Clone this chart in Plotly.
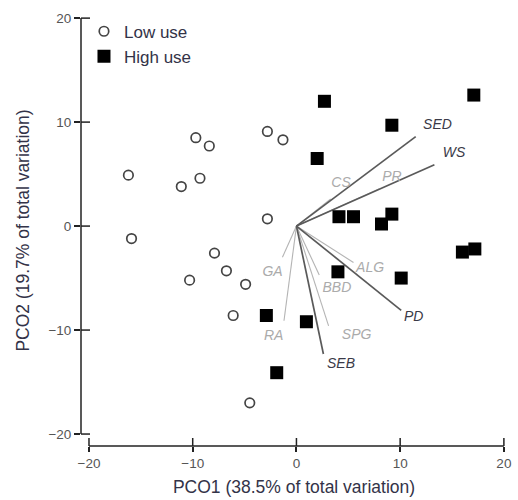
import plotly.graph_objects as go

# ---- data ----
low_x = [-16.2, -15.9, -9.7, -8.4, -11.1, -9.3, -2.8, -1.3, -2.8, -7.9, -6.75, -10.3, -4.9, -6.1, -4.5]
low_y = [4.9, -1.2, 8.5, 7.7, 3.8, 4.6, 9.1, 8.3, 0.7, -2.6, -4.3, -5.2, -5.6, -8.6, -17.0]

high_x = [2.7, 9.2, 17.1, 2.0, 4.1, 5.5, 9.2, 8.2, 4.0, 10.1, -2.9, 0.96, -1.9, 16.0, 17.2]
high_y = [12.0, 9.7, 12.6, 6.5, 0.9, 0.9, 1.15, 0.2, -4.4, -5.0, -8.6, -9.2, -14.1, -2.5, -2.2]

# vectors (light = weakly correlated, dark = strongly correlated)
light_names = ["CS", "PR", "GA", "RA", "SPG", "BBD", "ALG"]
light_x = [3.3, 8.0, -1.35, -1.2, 3.1, 2.2, 5.5]
light_y = [2.6, 3.6, -3.0, -9.1, -9.6, -4.7, -3.5]
light_lx = [4.3, 9.2, -2.3, -2.2, 5.8, 3.9, 7.1]
light_ly = [4.1, 4.7, -4.5, -10.6, -10.5, -6.0, -4.1]

dark_names = ["SED", "WS", "PD", "SEB"]
dark_x = [11.5, 13.3, 10.1, 2.6]
dark_y = [8.6, 5.9, -8.1, -12.3]
dark_lx = [13.6, 15.2, 11.3, 4.3]
dark_ly = [9.7, 7.0, -8.8, -13.3]

ticks = [-20, -10, 0, 10, 20]
x_title = "PCO1 (38.5% of total variation)"
y_title = "PCO2 (19.7% of total variation)"

fig = go.Figure()

def seg(xs, ys):
    X, Y = [], []
    for a, b in zip(xs, ys):
        X += [0, a, None]
        Y += [0, b, None]
    return X, Y

lx, ly = seg(light_x, light_y)
fig.add_trace(go.Scatter(x=lx, y=ly, mode="lines", line=dict(color="#b4b4b4", width=1.1),
                         showlegend=False, hoverinfo="skip"))
dx, dy = seg(dark_x, dark_y)
fig.add_trace(go.Scatter(x=dx, y=dy, mode="lines", line=dict(color="#5a5a5a", width=1.7),
                         showlegend=False, hoverinfo="skip"))

fig.add_trace(go.Scatter(x=light_lx, y=light_ly, mode="text",
                         text=[f"<i>{n}</i>" for n in light_names],
                         textfont=dict(family="Arial", size=14, color="#ababab"),
                         showlegend=False, hoverinfo="skip"))
fig.add_trace(go.Scatter(x=dark_lx, y=dark_ly, mode="text",
                         text=[f"<i>{n}</i>" for n in dark_names],
                         textfont=dict(family="Arial", size=14, color="#3a3a48"),
                         showlegend=False, hoverinfo="skip"))

fig.add_trace(go.Scatter(x=low_x, y=low_y, mode="markers", name="Low use",
                         marker=dict(symbol="circle-open", size=9.5, color="#444444",
                                     line=dict(width=1.7, color="#444444"))))
fig.add_trace(go.Scatter(x=high_x, y=high_y, mode="markers", name="High use",
                         marker=dict(symbol="square", size=13, color="#000000")))

shapes = [
    dict(type="line", xref="x", yref="paper", x0=ticks[0], x1=ticks[-1], y0=0, y1=0,
         line=dict(color="#222", width=1.5)),
    dict(type="line", xref="paper", yref="y", x0=0, x1=0, y0=ticks[0], y1=ticks[-1],
         line=dict(color="#222", width=1.5)),
]
for t in ticks:
    shapes.append(dict(type="line", xref="x", yref="paper", ysizemode="pixel", yanchor=0,
                       x0=t, x1=t, y0=0, y1=8, line=dict(color="#222", width=1.5)))
    shapes.append(dict(type="line", xref="paper", yref="y", xsizemode="pixel", xanchor=0,
                       x0=0, x1=9, y0=t, y1=t, line=dict(color="#222", width=1.5)))

fig.update_layout(
    width=518, height=500,
    margin=dict(l=81, r=7, t=15, b=54),
    paper_bgcolor="white", plot_bgcolor="white",
    font=dict(family="Arial", color="#444"),
    shapes=shapes,
    showlegend=True,
    legend=dict(x=0.007, y=1.003, xanchor="left", yanchor="top",
                font=dict(size=17, color="#333348"), bgcolor="rgba(0,0,0,0)",
                tracegroupgap=0),
    xaxis=dict(range=[-20.77, 20.3], tickvals=ticks, showgrid=False, zeroline=False,
               showline=False, ticks="outside", ticklen=5, tickwidth=1.5, tickcolor="#222",
               tickfont=dict(size=13.5, color="#555"),
               title=dict(text=x_title, font=dict(size=17.5, color="#333348"), standoff=10)),
    yaxis=dict(range=[-21.15, 20.3], tickvals=ticks, showgrid=False, zeroline=False,
               showline=False, ticks="outside", ticklen=6, tickwidth=1.5, tickcolor="#222",
               tickfont=dict(size=13.5, color="#555"),
               title=dict(text=y_title, font=dict(size=17.5, color="#333348"), standoff=14)),
)

fig.write_html("out.html")
